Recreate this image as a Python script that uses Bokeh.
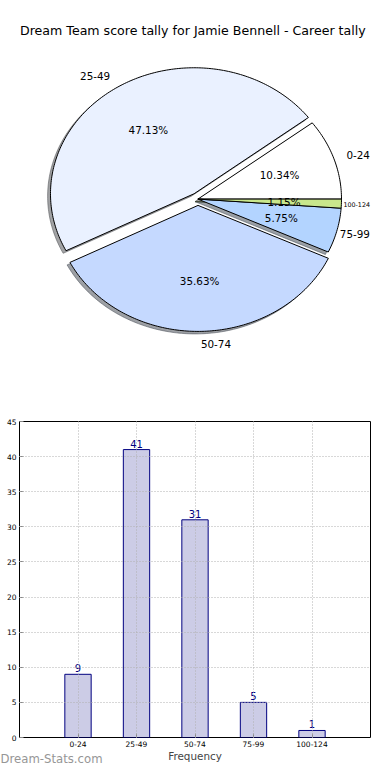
import math
from bokeh.plotting import figure
from bokeh.layouts import column
from bokeh.models import ColumnDataSource, Range1d, FactorRange, SingleIntervalTicker, Title
from bokeh.core.properties import value
from bokeh.embed import file_html
from bokeh.resources import INLINE

# ---------------- data ----------------
TITLE = "Dream Team score tally for Jamie Bennell - Career tally"
categories = ["0-24", "25-49", "50-74", "75-99", "100-124"]
counts = [9, 41, 31, 5, 1]
explode = [0.0, 0.05, 0.05, 0.0, 0.0]
pie_colors = ["#ffffff", "#eaf1ff", "#c5d9ff", "#b3d4ff", "#c9e78c"]
y_tick_interval = 5
y_max = 45
x_label = "Frequency"
watermark = "Dream-Stats.com"

# ---------------- layout constants ----------------
FONT = "DejaVu Sans"
W = 374
PIE_H = 400
BAR_H = 364
FRAME_L, FRAME_R = 19, 370   # shared horizontal frame of both plots (column aligns them)
CX, CY = 197.4, 198.6        # pie centre (px)
RX, RY = 143.6, 126.0        # pie radii (px) - the pie is slightly elliptical
LABEL_PX = 10.4
TITLE_LEFT, TITLE_Y = 19.5, 30
TITLE_PX = "12.6px"


def text_width(s, px):
    # DejaVu Sans advance widths of the label characters
    return sum((0.636 if ch.isdigit() else 0.361) for ch in s) * px


# ---------------- pie ----------------
pie = figure(width=W, height=PIE_H, output_backend="svg", toolbar_location=None,
             x_range=Range1d((FRAME_L - CX) / RX, (FRAME_R - CX) / RX),
             y_range=Range1d((CY - PIE_H) / RY, CY / RY),
             min_border_left=FRAME_L, min_border_right=W - FRAME_R,
             min_border_top=0, min_border_bottom=0,
             outline_line_color=None, background_fill_color="white")
pie.axis.visible = False
pie.grid.visible = False

total = float(sum(counts))
theta = 0.0
wx, wy, sx, sy, shadow_cols = [], [], [], [], []
lx, ly, lalign, lfs = [], [], [], []
px, py, ptxt = [], [], []
for cat, v, e, col in zip(categories, counts, explode, pie_colors):
    span = 360.0 * v / total
    t1, t2 = theta, theta + span
    theta = t2
    mid = math.radians((t1 + t2) / 2.0)
    ox, oy = e * math.cos(mid), e * math.sin(mid)
    n = max(3, int(span) + 2)
    angs = [math.radians(t1 + (t2 - t1) * k / (n - 1)) for k in range(n)]
    xs = [ox] + [ox + math.cos(a) for a in angs] + [ox]
    ys = [oy] + [oy + math.sin(a) for a in angs] + [oy]
    wx.append(xs)
    wy.append(ys)
    sx.append([x - 0.02 for x in xs])
    sy.append([y - 0.02 for y in ys])
    r, g, b = int(col[1:3], 16), int(col[3:5], 16), int(col[5:7], 16)
    shadow_cols.append("#%02x%02x%02x" % (int(r * 0.3), int(g * 0.3), int(b * 0.3)))
    # label at 1.1 radius; keep right-side labels inside the plot frame
    lab_x = ox + 1.1 * math.cos(mid)
    fs = LABEL_PX
    if math.cos(mid) > 0:
        start_px = CX + lab_x * RX
        limit = FRAME_R - 0.5
        excess = start_px + text_width(cat, fs) - limit
        edge_px = CX + (ox + math.cos(mid)) * RX
        room = start_px - (edge_px + 2)
        shift = max(0.0, min(excess, room))
        start_px -= shift
        lab_x = (start_px - CX) / RX
        if start_px + text_width(cat, fs) > limit:
            fs = (limit - start_px) / text_width(cat, 1.0)
    lx.append(lab_x)
    ly.append(oy + 1.1 * math.sin(mid))
    lalign.append("left" if math.cos(mid) > 0 else "right")
    lfs.append("%.2fpx" % fs)
    px.append(ox + 0.6 * math.cos(mid))
    py.append(oy + 0.6 * math.sin(mid))
    ptxt.append("%.2f%%" % (100.0 * v / total))

pie.patches(xs=sx, ys=sy, fill_color=shadow_cols, fill_alpha=0.5,
            line_color=shadow_cols, line_alpha=0.5, line_width=1)
pie.patches(xs=wx, ys=wy, fill_color=pie_colors, line_color="black", line_width=1)

lab_src = ColumnDataSource(dict(x=lx, y=ly, t=categories, a=lalign, fs=lfs))
pie.text(x="x", y="y", text="t", text_align="a", text_baseline="middle",
         text_font=value(FONT), text_font_size="fs", text_color="black", source=lab_src)
pct_src = ColumnDataSource(dict(x=px, y=py, t=ptxt))
pie.text(x="x", y="y", text="t", text_align="center", text_baseline="middle",
         text_font=value(FONT), text_font_size="%.1fpx" % LABEL_PX, text_color="black",
         source=pct_src)
pie.text(x=[(TITLE_LEFT - CX) / RX], y=[(CY - TITLE_Y) / RY], text=[TITLE], text_align="left",
         text_baseline="middle", text_font=value(FONT), text_font_size=TITLE_PX,
         text_color="black")

# ---------------- bar chart ----------------
bar = figure(width=W, height=BAR_H, output_backend="svg", toolbar_location=None,
             x_range=FactorRange(factors=categories, range_padding=0.5,
                                 range_padding_units="absolute"),
             y_range=Range1d(0, y_max),
             min_border_left=FRAME_L, min_border_right=W - FRAME_R,
             min_border_top=21, min_border_bottom=24,
             outline_line_color="black", outline_line_width=1, outline_line_alpha=1.0)

src = ColumnDataSource(dict(cat=categories, val=counts, lbl=[str(c) for c in counts]))
bar.vbar(x="cat", top="val", width=0.45, fill_color="navy", fill_alpha=0.2,
         line_color="navy", line_width=1, source=src)
bar.text(x="cat", y="val", text="lbl", text_align="center", text_baseline="bottom",
         y_offset=-2, text_color="navy", text_font=value(FONT), text_font_size="10px", source=src)

bar.yaxis.ticker = SingleIntervalTicker(interval=y_tick_interval, num_minor_ticks=0)
bar.axis.axis_line_color = None
bar.axis.major_tick_in = 4
bar.axis.major_tick_out = 0
bar.axis.minor_tick_in = 0
bar.axis.minor_tick_out = 0
bar.axis.major_tick_line_color = "#888888"
bar.axis.major_label_text_font = FONT
bar.axis.major_label_text_font_size = "7.5px"
bar.axis.major_label_text_color = "black"
bar.yaxis.major_label_standoff = 3
bar.xaxis.major_label_standoff = 3
bar.xaxis.axis_label = x_label
bar.xaxis.axis_label_text_font = FONT
bar.xaxis.axis_label_text_font_size = "10.4px"
bar.xaxis.axis_label_text_font_style = "normal"
bar.xaxis.axis_label_standoff = 0
bar.grid.grid_line_color = "#b0b0b0"
bar.grid.grid_line_dash = "1 2"
bar.grid.grid_line_width = 1
bar.grid.level = "overlay"

bar.add_layout(Title(text=watermark, align="left", offset=-FRAME_L, standoff=-26,
                     vertical_align="top",
                     text_font=FONT, text_font_size="11.7px", text_font_style="normal",
                     text_color="#969696"), "below")

layout = column(pie, bar, spacing=0)
open("out.html", "w").write(file_html(layout, INLINE))
